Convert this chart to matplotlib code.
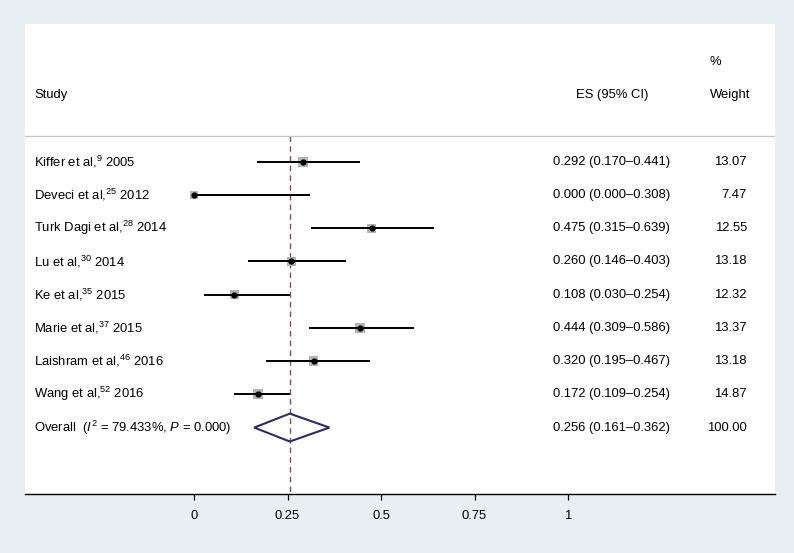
import matplotlib
matplotlib.use("Agg")
import matplotlib.pyplot as plt
import numpy as np

plt.rcParams['font.family'] = ['Liberation Sans', 'DejaVu Sans']
plt.rcParams['mathtext.fontset'] = 'custom'
plt.rcParams['mathtext.rm'] = 'Liberation Sans'
plt.rcParams['mathtext.it'] = 'Liberation Sans:italic'

# data
authors = ["Kiffer et al,", "Deveci et al,", "Turk Dagi et al,", "Lu et al,",
           "Ke et al,", "Marie et al,", "Laishram et al,", "Wang et al,"]
refs = ["9", "25", "28", "30", "35", "37", "46", "52"]
years = ["2005", "2012", "2014", "2014", "2015", "2015", "2016", "2016"]
es = [0.292, 0.000, 0.475, 0.260, 0.108, 0.444, 0.320, 0.172]
lo = [0.170, 0.000, 0.315, 0.146, 0.030, 0.309, 0.195, 0.109]
hi = [0.441, 0.308, 0.639, 0.403, 0.254, 0.586, 0.467, 0.254]
weight = [13.07, 7.47, 12.55, 13.18, 12.32, 13.37, 13.18, 14.87]
overall_es, overall_lo, overall_hi = 0.256, 0.161, 0.362
overall_weight = 100.00
i2, p_val = 79.433, 0.000
xticks = [0, 0.25, 0.5, 0.75, 1]
xticklabels = ["0", "0.25", "0.5", "0.75", "1"]

fs = 9.4
fig = plt.figure(figsize=(7.94, 5.53), dpi=100, facecolor="#e8eff2")
ax = fig.add_axes([25/794, 1-494/553, 750/794, 470/553])
ax.set_facecolor("white")
ax.set_xlim(-0.452, 1.5535)
ax.set_ylim(10.0, -4.15)

for s in ["top", "left", "right"]:
    ax.spines[s].set_visible(False)
ax.spines["bottom"].set_linewidth(1.0)
ax.set_yticks([])
ax.set_xticks(xticks)
ax.set_xticklabels(xticklabels, fontsize=fs)
ax.tick_params(axis="x", length=4.5, width=0.9, pad=7)

def px(x):
    return (x - 194) / 374.0

x_study = px(34)
x_es = px(612)
x_wt = px(747)
x_wt_head = px(710)

# header
ax.text(x_study, -2, "Study", fontsize=fs, va="center", ha="left")
ax.text(x_es, -2, "ES (95% CI)", fontsize=fs, va="center", ha="center")
ax.text(x_wt_head, -2, "Weight", fontsize=fs, va="center", ha="left")
ax.text(x_wt_head, -3, "%", fontsize=fs, va="center", ha="left")
ax.axhline(-0.77, color="#c8c8c8", lw=1.0)

# overall line
ax.plot([overall_es, overall_es], [-0.77, 10.0], color="#8e4a5a", lw=1.0,
        ls=(0, (4, 3)), zorder=1)

n = len(es)
rows = np.arange(n)
for i in range(n):
    y = rows[i]
    ax.plot([lo[i], hi[i]], [y, y], color="black", lw=1.4, zorder=3)
    side = 6.8 * np.sqrt(weight[i] / 13.0)
    ax.scatter([es[i]], [y], marker="s", s=side**2, color="#b4b4b4",
               edgecolors="none", zorder=2)
    ax.scatter([es[i]], [y], marker="o", s=12, color="black", zorder=4)
    ax.text(x_study, y, authors[i] + "$^{" + refs[i] + "}$ " + years[i],
            fontsize=fs, va="center", ha="left")
    ax.text(px(670), y, "%.3f (%.3f\u2013%.3f)" % (es[i], lo[i], hi[i]),
            fontsize=fs, va="center", ha="right")
    ax.text(x_wt, y, "%.2f" % weight[i], fontsize=fs, va="center", ha="right")

yo = n
dh = 0.42
ax.fill([overall_lo, overall_es, overall_hi, overall_es, overall_lo],
        [yo, yo - dh, yo, yo + dh, yo], facecolor="none",
        edgecolor="#2b2b6b", lw=1.5, zorder=3)
ax.text(x_study, yo, "Overall  ($I^2$ = %.3f%%, $P$ = %.3f)" % (i2, p_val),
        fontsize=fs, va="center", ha="left")
ax.text(px(670), yo, "%.3f (%.3f\u2013%.3f)" % (overall_es, overall_lo, overall_hi),
        fontsize=fs, va="center", ha="right")
ax.text(x_wt, yo, "%.2f" % overall_weight, fontsize=fs, va="center", ha="right")

fig.savefig("out.png", dpi=100, facecolor=fig.get_facecolor())
